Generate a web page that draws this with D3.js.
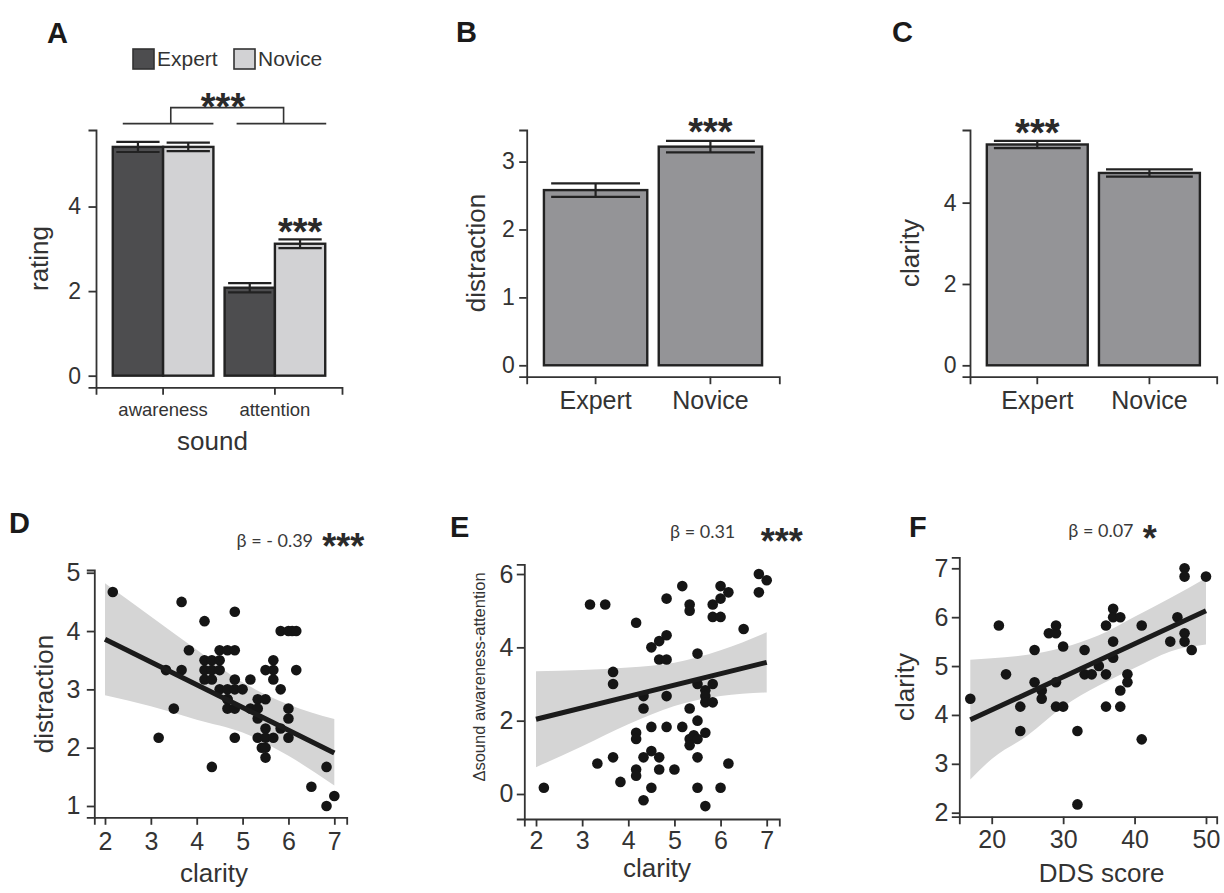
<!DOCTYPE html>
<html>
<head>
<meta charset="utf-8">
<script src="https://cdn.jsdelivr.net/npm/d3@7"></script>
<style>
  body { margin: 0; background: #fff; }
  svg { display: block; }
</style>
</head>
<body>
<svg id="chart" width="1224" height="893"></svg>
<script>
// ================= DATA =================
// Panel A
const soundCats = ["awareness", "attention"];
const groups = ["Expert", "Novice"];
const ratingExpert = [5.41, 2.08];
const ratingNovice = [5.41, 3.12];
const ratingExpertSE = [0.12, 0.11];
const ratingNoviceSE = [0.10, 0.105];
const ratingTicks = [0, 2, 4];

// Panel B
const distractionMean = [2.58, 3.22];
const distractionSE = [0.10, 0.085];
const distractionTicks = [0, 1, 2, 3];

// Panel C
const clarityMean = [5.43, 4.73];
const claritySE = [0.09, 0.09];
const clarityTicks = [0, 2, 4];

// Panel D : clarity vs distraction
const dClarity = [2.17, 3.67, 4.83, 4.17, 5.83, 6.0, 6.08, 6.17, 3.83, 4.5, 4.67, 4.83, 5.67, 4.17, 4.33, 4.5,
  3.33, 3.67, 4.17, 4.33, 4.5, 5.5, 5.67, 6.17, 4.17, 4.33, 4.83, 5.17, 5.67, 5.83, 4.5, 4.67, 4.83, 5.0,
  4.67, 4.67, 5.33, 5.5, 4.67, 4.83, 5.17, 5.33, 3.5, 6.0, 5.33, 6.0, 5.5, 5.83, 3.17, 4.83, 5.33, 5.5,
  5.67, 6.0, 5.42, 5.5, 5.5, 4.33, 6.83, 6.5, 7.0, 6.83];
const dDistraction = [4.67, 4.5, 4.33, 4.17, 4.0, 4.0, 4.0, 4.0, 3.67, 3.67, 3.67, 3.67, 3.5, 3.5, 3.5, 3.5,
  3.33, 3.33, 3.33, 3.33, 3.33, 3.33, 3.33, 3.33, 3.17, 3.17, 3.17, 3.17, 3.17, 3.0, 3.0, 3.0, 3.0, 3.0,
  2.83, 2.67, 2.83, 2.83, 2.83, 2.67, 2.67, 2.67, 2.67, 2.67, 2.5, 2.5, 2.33, 2.33, 2.17, 2.17, 2.17, 2.17,
  2.17, 2.17, 2.0, 2.0, 1.83, 1.67, 1.67, 1.33, 1.17, 1.0];
const dFitX = [2, 7];
const dFitY = [3.86, 1.91];
const dBandX = [2, 3, 4, 5, 6, 7];
const dBandLo = [2.90, 2.71, 2.48, 2.26, 1.86, 1.35];
const dBandHi = [4.82, 4.25, 3.68, 3.12, 2.74, 2.49];
const dTicksX = [2, 3, 4, 5, 6, 7];
const dTicksY = [1, 2, 3, 4, 5];

// Panel E : clarity vs delta sound awareness-attention
const eClarity = [2.17, 3.17, 3.5, 3.67, 3.67, 3.33, 3.67, 3.83, 4.17, 4.33, 4.33, 4.17, 4.17, 4.17, 4.17, 4.33,
  4.33, 4.5, 4.5, 4.5, 4.67, 4.67, 4.5, 4.67, 4.83, 4.67, 4.83, 4.83, 4.83, 5.0, 4.83, 5.17, 5.17, 5.33,
  5.33, 5.33, 5.33, 5.33, 5.42, 5.5, 5.5, 5.5, 5.5, 5.5, 5.5, 5.67, 5.67, 5.67, 5.67, 5.67, 5.83, 5.83,
  5.83, 5.83, 6.0, 6.0, 6.0, 6.17, 6.17, 6.0, 6.5, 6.83, 7.0, 6.83];
const eDelta = [0.17, 5.17, 5.17, 3.33, 3.0, 0.83, 1.0, 0.33, 4.67, 2.67, 2.33, 1.67, 1.5, 0.67, 0.5, 1.0,
  -0.17, 1.83, 1.17, 0.17, 1.0, 0.67, 4.0, 4.17, 4.33, 3.67, 3.67, 2.67, 5.33, 0.67, 1.83, 1.83, 5.67, 5.17,
  5.0, 2.33, 1.5, 1.33, 1.6, 3.83, 3.0, 2.0, 1.5, 1.0, 0.17, 2.83, 2.67, 2.5, 1.67, -0.33, 3.0, 2.5,
  5.17, 4.83, 4.83, 5.67, 5.33, 5.5, 0.83, 0.17, 4.5, 6.0, 5.83, 5.5];
const eFitX = [2, 7];
const eFitY = [2.04, 3.59];
const eBandX = [2, 3, 4, 5, 6, 7];
const eBandLo = [0.73, 1.30, 1.90, 2.40, 2.67, 2.77];
const eBandHi = [3.35, 3.38, 3.45, 3.58, 3.92, 4.41];
const eTicksX = [2, 3, 4, 5, 6, 7];
const eTicksY = [0, 2, 4, 6];

// Panel F : DDS score vs clarity
const fDDS = [17, 21, 22, 24, 24, 26, 26, 27, 27, 28, 29, 29, 29, 29, 30, 30, 32, 32, 33, 33, 34, 35, 36, 36,
  36, 37, 37, 38, 37, 37, 38, 38, 39, 39, 41, 41, 45, 46, 47, 47, 47, 47, 48, 50];
const fClarity = [4.33, 5.83, 4.83, 4.17, 3.67, 5.33, 4.67, 4.5, 4.33, 5.67, 5.67, 5.83, 4.67, 4.17, 4.17, 5.4,
  3.67, 2.17, 5.33, 4.83, 4.83, 5.0, 4.83, 5.83, 4.17, 6.17, 6.0, 6.0, 5.5, 5.17, 4.5, 4.17, 4.83, 4.67,
  5.83, 3.5, 5.5, 6.0, 7.0, 6.83, 5.67, 5.5, 5.33, 6.83];
const fFitX = [17, 50];
const fFitY = [3.90, 6.13];
const fBandX = [17, 20, 25, 30, 35, 40, 45, 50];
const fBandLo = [2.68, 3.10, 3.58, 4.17, 4.60, 4.96, 5.30, 5.44];
const fBandHi = [5.13, 5.16, 5.23, 5.38, 5.63, 6.01, 6.39, 6.80];
const fTicksX = [20, 30, 40, 50];
const fTicksY = [2, 3, 4, 5, 6, 7];

// ================= STYLE / LAYOUT =================
const FONT = "'Liberation Sans', Arial, Helvetica, sans-serif";
const INK = "#333333";
const colExpert = "#4d4d4f";
const colNovice = "#d2d2d4";
const colBar = "#949497";
const colBand = "#d5d5d5";
const colDot = "#151515";

const svg = d3.select("#chart");

function styleAxis(g, fs) {
  g.select(".domain").attr("stroke", INK).attr("stroke-width", 1.8);
  g.selectAll(".tick line").attr("stroke", INK).attr("stroke-width", 1.8);
  g.selectAll(".tick text").attr("fill", INK).style("font-size", fs + "px").style("font-family", FONT);
}
function leftAxis(scale, ticks, x, gap, fs) {
  const g = svg.append("g").attr("transform", `translate(${x},0)`)
    .call(d3.axisLeft(scale).tickValues(ticks).tickSizeOuter(0).tickSize(7.5).tickPadding(gap - 7.5).tickFormat(d3.format("d")));
  styleAxis(g, fs);
  return g;
}
function bottomAxis(scale, ticks, y, base, fs) {
  const ax = d3.axisBottom(scale).tickSizeOuter(0).tickSize(7.5);
  if (ticks) ax.tickValues(ticks).tickFormat(d3.format("d"));
  const g = svg.append("g").attr("transform", `translate(0,${y})`).call(ax);
  styleAxis(g, fs);
  g.selectAll(".tick text").attr("y", base).attr("dy", 0);
  return g;
}
function text(x, y, s, fs, opts = {}) {
  const t = svg.append("text").attr("x", x).attr("y", y).text(s)
    .style("font-family", opts.family || FONT).style("font-size", fs + "px")
    .attr("fill", opts.fill || INK)
    .attr("text-anchor", opts.anchor || "start")
    .style("font-weight", opts.weight || "normal");
  if (opts.rotate) t.attr("x", 0).attr("y", 0).attr("transform", `translate(${x},${y}) rotate(-90)`);
  return t;
}
function stars(cx, cy, n, fs = 38) {
  text(cx, cy + 0.57 * fs, "*".repeat(n), fs, { anchor: "middle", weight: "bold", fill: "#2a2a2a" });
}
function panelTitle(x, y, s) {
  text(x, y, s, 29, { weight: "bold", fill: "#1a1a1a" });
}
function errorBar(cx, w, yScale, m, se) {
  const g = svg.append("g").attr("stroke", "#222").attr("stroke-width", 2.2);
  g.append("line").attr("x1", cx).attr("x2", cx).attr("y1", yScale(m - se)).attr("y2", yScale(m + se));
  [m - se, m + se].forEach(v => g.append("line").attr("x1", cx - w / 2).attr("x2", cx + w / 2).attr("y1", yScale(v)).attr("y2", yScale(v)));
}

// ================= PANEL A =================
(function () {
  const x = d3.scaleBand().domain(soundCats).range([96, 342]).paddingInner(0.1).paddingOuter(0.15);
  const xi = d3.scaleBand().domain(groups).range([0, x.bandwidth()]).padding(0);
  const y = d3.scaleLinear().domain([-0.275, 5.81]).range([387.3, 130]);
  const vals = { Expert: ratingExpert, Novice: ratingNovice };
  const ses = { Expert: ratingExpertSE, Novice: ratingNoviceSE };
  const cols = { Expert: colExpert, Novice: colNovice };
  soundCats.forEach((c, i) => {
    groups.forEach(gname => {
      svg.append("rect").attr("x", x(c) + xi(gname)).attr("width", xi.bandwidth())
        .attr("y", y(vals[gname][i])).attr("height", y(0) - y(vals[gname][i]))
        .attr("fill", cols[gname]).attr("stroke", "#222").attr("stroke-width", 2.4);
    });
  });
  soundCats.forEach((c, i) => {
    groups.forEach(gname => {
      errorBar(x(c) + xi(gname) + xi.bandwidth() / 2, xi.bandwidth() * 0.86, y, vals[gname][i], ses[gname][i]);
    });
  });
  leftAxis(y, ratingTicks, 96, 15, 23);
  bottomAxis(x, null, 387.3, 28.7, 18.5);
  text(212.5, 450, "sound", 26, { anchor: "middle" });
  text(48, 258.5, "rating", 26, { anchor: "middle", rotate: true });
  // legend
  const legX = [133, 234];
  groups.forEach((gname, i) => {
    svg.append("rect").attr("x", legX[i]).attr("y", 49).attr("width", 21).attr("height", 20)
      .attr("fill", cols[gname]).attr("stroke", "#333").attr("stroke-width", 1.6);
    text(legX[i] + 24, 65.5, gname, 21);
  });
  // significance bracket
  const br = svg.append("g").attr("stroke", INK).attr("stroke-width", 1.6).attr("fill", "none");
  const yLow = y(5.96), yHigh = y(6.34);
  br.append("line").attr("x1", x("awareness") + 10).attr("x2", x("awareness") + x.bandwidth()).attr("y1", yLow).attr("y2", yLow);
  br.append("line").attr("x1", x("attention") + 12).attr("x2", x("attention") + x.bandwidth() + 1).attr("y1", yLow).attr("y2", yLow);
  br.append("path").attr("d", `M${x("awareness") + 58},${yLow} V${yHigh} H${x("attention") + 59} V${yLow}`);
  stars(223, y(6.57), 3);
  stars(x("attention") + xi("Novice") + xi.bandwidth() / 2, y(3.61), 3);
  panelTitle(47, 43, "A");
})();

// ================= PANEL B & C =================
function simpleBars(x0, x1, dom, means, ses, ticks, gap, ylab, ylabX, starIdx, starVal, title, titleX) {
  const x = d3.scaleBand().domain(groups).range([x0, x1]).paddingInner(0.1).paddingOuter(0.15);
  const y = d3.scaleLinear().domain(dom).range([376.7, 130]);
  groups.forEach((gname, i) => {
    svg.append("rect").attr("x", x(gname)).attr("width", x.bandwidth())
      .attr("y", y(means[i])).attr("height", y(0) - y(means[i]))
      .attr("fill", colBar).attr("stroke", "#222").attr("stroke-width", 2.4);
  });
  groups.forEach((gname, i) => errorBar(x(gname) + x.bandwidth() / 2, x.bandwidth() * 0.86, y, means[i], ses[i]));
  leftAxis(y, ticks, x0, gap, 23);
  bottomAxis(x, null, 376.7, 32.6, 25);
  text(ylabX, 253, ylab, 26, { anchor: "middle", rotate: true });
  stars(x(groups[starIdx]) + x.bandwidth() / 2, y(starVal), 3);
  panelTitle(titleX, 42, title);
}
simpleBars(526.7, 779.3, [-0.168, 3.465], distractionMean, distractionSE, distractionTicks, 12,
  "distraction", 484.5, 1, 3.56, "B", 456);
simpleBars(970, 1216.7, [-0.28, 5.786], clarityMean, claritySE, clarityTicks, 13.5,
  "clarity", 919, 0, 5.93, "C", 892);

// ================= SCATTER PANELS =================
function scatter(cfg) {
  const x = d3.scaleLinear().domain(cfg.xd).range([cfg.x0, cfg.x1]);
  const y = d3.scaleLinear().domain(cfg.yd).range([cfg.y0, cfg.y1]);
  const band = cfg.bandX.map((v, i) => ({ x: v, lo: cfg.bandLo[i], hi: cfg.bandHi[i] }));
  svg.append("path").datum(band)
    .attr("d", d3.area().x(d => x(d.x)).y0(d => y(d.lo)).y1(d => y(d.hi)).curve(d3.curveMonotoneX))
    .attr("fill", colBand);
  const pts = cfg.px.map((v, i) => ({ x: v, y: cfg.py[i] }));
  svg.append("g").selectAll("circle").data(pts).join("circle")
    .attr("cx", d => x(d.x)).attr("cy", d => y(d.y)).attr("r", 5.3).attr("fill", colDot);
  const fit = cfg.fitX.map((v, i) => ({ x: v, y: cfg.fitY[i] }));
  svg.append("path").datum(fit)
    .attr("d", d3.line().x(d => x(d.x)).y(d => y(d.y)))
    .attr("stroke", "#1b1b1b").attr("stroke-width", 5).attr("fill", "none");
  leftAxis(y, cfg.ticksY, cfg.x0, cfg.gapY, 25);
  bottomAxis(x, cfg.ticksX, cfg.y0, cfg.baseX, 25);
  text(cfg.xlabX, cfg.xlabY, cfg.xlab, 26, { anchor: "middle" });
  text(cfg.ylabX, cfg.ylabY, cfg.ylab, cfg.ylabFs || 26, { anchor: "middle", rotate: true });
  text(cfg.betaX, cfg.betaY, cfg.beta, 18, { family: "Lato, 'Open Sans', sans-serif", fill: "#3a3a3a" });
  stars(cfg.starX, cfg.starY, cfg.nStars, 36);
  panelTitle(cfg.titleX, cfg.titleY, cfg.title);
}

scatter({
  x0: 94.3, x1: 346.7, y0: 817.3, y1: 570, xd: [1.767, 7.27], yd: [0.806, 5.047],
  px: dClarity, py: dDistraction, fitX: dFitX, fitY: dFitY,
  bandX: dBandX, bandLo: dBandLo, bandHi: dBandHi, ticksX: dTicksX, ticksY: dTicksY,
  gapY: 14, baseX: 32.7, xlab: "clarity", xlabX: 214, xlabY: 882, ylab: "distraction", ylabX: 53, ylabY: 694,
  beta: "β = - 0.39", betaX: 236.5, betaY: 546.5, starX: 343.3, starY: 538.3, nStars: 3,
  title: "D", titleX: 9, titleY: 533
});
scatter({
  x0: 524.3, x1: 779.3, y0: 819, y1: 564.3, xd: [1.746, 7.273], yd: [-0.682, 6.265],
  px: eClarity, py: eDelta, fitX: eFitX, fitY: eFitY,
  bandX: eBandX, bandLo: eBandLo, bandHi: eBandHi, ticksX: eTicksX, ticksY: eTicksY,
  gapY: 11, baseX: 29.5, xlab: "clarity", xlabX: 657, xlabY: 877, ylab: "Δsound awareness-attention", ylabX: 484.5, ylabY: 677, ylabFs: 16.5,
  beta: "β = 0.31", betaX: 670, betaY: 538.3, starX: 781.7, starY: 533.3, nStars: 3,
  title: "E", titleX: 450, titleY: 537
});
scatter({
  x0: 959.3, x1: 1216.7, y0: 816.7, y1: 557.3, xd: [15.46, 51.5], yd: [1.918, 7.225],
  px: fDDS, py: fClarity, fitX: fFitX, fitY: fFitY,
  bandX: fBandX, bandLo: fBandLo, bandHi: fBandHi, ticksX: fTicksX, ticksY: fTicksY,
  gapY: 11, baseX: 31.3, xlab: "DDS score", xlabX: 1101.7, xlabY: 881.5, ylab: "clarity", ylabX: 914, ylabY: 687,
  beta: "β = 0.07", betaX: 1068.3, betaY: 536.7, starX: 1149.7, starY: 530.8, nStars: 1,
  title: "F", titleX: 909, titleY: 537
});
</script>
</body>
</html>
